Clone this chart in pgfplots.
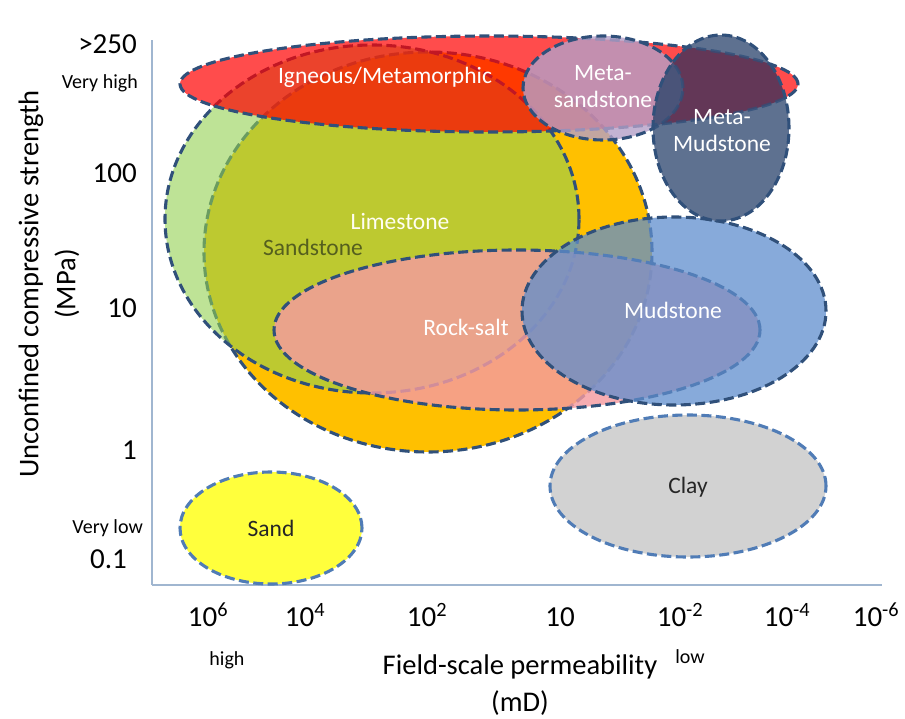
\documentclass[border=0pt]{standalone}
\usepackage{pgfplots}
\pgfplotsset{compat=1.18}
\usepackage{fontspec}
\setmainfont{Carlito}
\definecolor{bord}{RGB}{48,80,122}
\definecolor{bordl}{RGB}{80,124,182}
\definecolor{axisc}{RGB}{160,182,208}
\definecolor{limec}{RGB}{255,192,0}
\definecolor{sandstc}{RGB}{146,208,80}
\definecolor{saltc}{RGB}{245,155,160}
\definecolor{mudc}{RGB}{95,142,205}
\definecolor{ignc}{RGB}{255,0,0}
\definecolor{msandc}{RGB}{180,160,200}
\definecolor{mmudc}{RGB}{85,105,138}
\definecolor{maroonc}{RGB}{100,50,82}
\definecolor{slatec}{RGB}{72,88,125}
\definecolor{sandc}{RGB}{255,255,60}
\definecolor{clayc}{RGB}{210,210,210}
\definecolor{sandtxt}{RGB}{85,95,30}
\tikzset{bd/.style={draw=bord, line width=3.1pt, dash pattern=on 10pt off 4.5pt},
         bdl/.style={draw=bordl, line width=3.1pt, dash pattern=on 10pt off 4.5pt}}
\newcommand{\fbig}{\fontsize{29}{32}\selectfont}
\newcommand{\flab}{\fontsize{28.5}{32}\selectfont}
\newcommand{\fmid}{\fontsize{23.5}{26}\selectfont}
\newcommand{\fsmall}{\fontsize{20}{23}\selectfont}
\begin{document}
\begin{tikzpicture}
\begin{axis}[
  x=1pt, y=1pt,
  xmin=152, xmax=882, ymin=131, ymax=676,
  axis x line=bottom, axis y line=left,
  axis line style={-, draw=axisc, line width=1.5pt},
  clip=false, major tick length=0pt,
  xtick={208,305,427,560,680,787,876},
  xticklabels={10\textsuperscript{6},10\textsuperscript{4},10\textsuperscript{2},10,10\textsuperscript{-2},10\textsuperscript{-4},10\textsuperscript{-6}},
  xticklabel style={anchor=base, yshift=-41pt, inner sep=0pt, font=\fbig},
  ytick={148,257,399,533,662},
  yticklabels={0.1\hspace*{10pt},1,10,100,>250},
  yticklabel style={anchor=base east, xshift=-15pt, inner sep=0pt, font=\fbig},
]
% invisible bounding box
\path (axis cs:0,0) rectangle (axis cs:905,716);
% Limestone
\path[fill=limec, bd] (axis cs:428,464) ellipse [x radius=224, y radius=200];
% Sandstone
\path[fill=sandstc, fill opacity=0.6, bd] (axis cs:372,497) ellipse [x radius=207, y radius=174];
% Rock-salt
\path[fill=saltc, fill opacity=0.82, bd] (axis cs:517,386) ellipse [x radius=243, y radius=80];
% Mudstone
\path[fill=mudc, fill opacity=0.75, bd] (axis cs:674,405) ellipse [x radius=152, y radius=94];
% Igneous/Metamorphic
\path[fill=ignc, fill opacity=0.7, bd] (axis cs:489,632) ellipse [x radius=309, y radius=48];
% Meta-sandstone
\path[fill=msandc, fill opacity=0.8, bd] (axis cs:603,628) ellipse [x radius=80, y radius=52];
% Meta-mudstone
\path[fill=mmudc, fill opacity=0.95] (axis cs:721,588) ellipse [x radius=68, y radius=93];
\begin{scope}
  \clip (axis cs:489,632) ellipse [x radius=309, y radius=48];
  \path[fill=maroonc, fill opacity=0.9] (axis cs:721,588) ellipse [x radius=68, y radius=93];
\end{scope}
\begin{scope}
  \clip (axis cs:603,628) ellipse [x radius=80, y radius=52];
  \path[fill=slatec, fill opacity=0.9] (axis cs:721,588) ellipse [x radius=68, y radius=93];
\end{scope}
\begin{scope}
  \clip (axis cs:721,588) ellipse [x radius=68, y radius=93];
  \path[bd, draw opacity=0.7] (axis cs:489,632) ellipse [x radius=309, y radius=48];
  \path[bd, draw opacity=0.7] (axis cs:603,628) ellipse [x radius=80, y radius=52];
\end{scope}
\path[bd] (axis cs:721,588) ellipse [x radius=68, y radius=93];
% Sand and Clay
\path[fill=sandc, bdl] (axis cs:271,188) ellipse [x radius=91, y radius=56];
\path[fill=clayc, bdl] (axis cs:688,230) ellipse [x radius=138, y radius=71];
% labels in ellipses
\node[text=white, font=\fmid] at (axis cs:385,639) {Igneous/Metamorphic};
\node[text=white, font=\fmid, align=center, inner sep=0pt] at (axis cs:603,629) {Meta-\\[1pt]sandstone};
\node[text=white, font=\fmid, align=center, inner sep=0pt] at (axis cs:722,585) {Meta-\\[1pt]Mudstone};
\node[text=white!95!yellow, font=\fmid] at (axis cs:400,494) {Limestone};
\node[text=sandtxt, font=\fmid] at (axis cs:313,469) {Sandstone};
\node[text=white, font=\fmid] at (axis cs:466,389) {Rock-salt};
\node[text=white, font=\fmid] at (axis cs:673,406) {Mudstone};
\node[text=black!85, font=\fmid] at (axis cs:688,229) {Clay};
\node[text=black!85, font=\fmid] at (axis cs:271,188) {Sand};
% side texts
\node[font=\fsmall, anchor=east, inner sep=0pt] at (axis cs:138,633) {Very high};
\node[font=\fsmall, anchor=east, inner sep=0pt] at (axis cs:143,188) {Very low};
\node[font=\fsmall] at (axis cs:227,56) {high};
\node[font=\fsmall] at (axis cs:690,59) {low};
\node[font=\flab] at (axis cs:520,49) {Field-scale permeability};
\node[font=\flab] at (axis cs:520,13) {(mD)};
\node[font=\flab, rotate=90] at (axis cs:31,432) {Unconfined compressive strength};
\node[font=\flab, rotate=90] at (axis cs:67,432) {(MPa)};
\end{axis}
\end{tikzpicture}
\end{document}
